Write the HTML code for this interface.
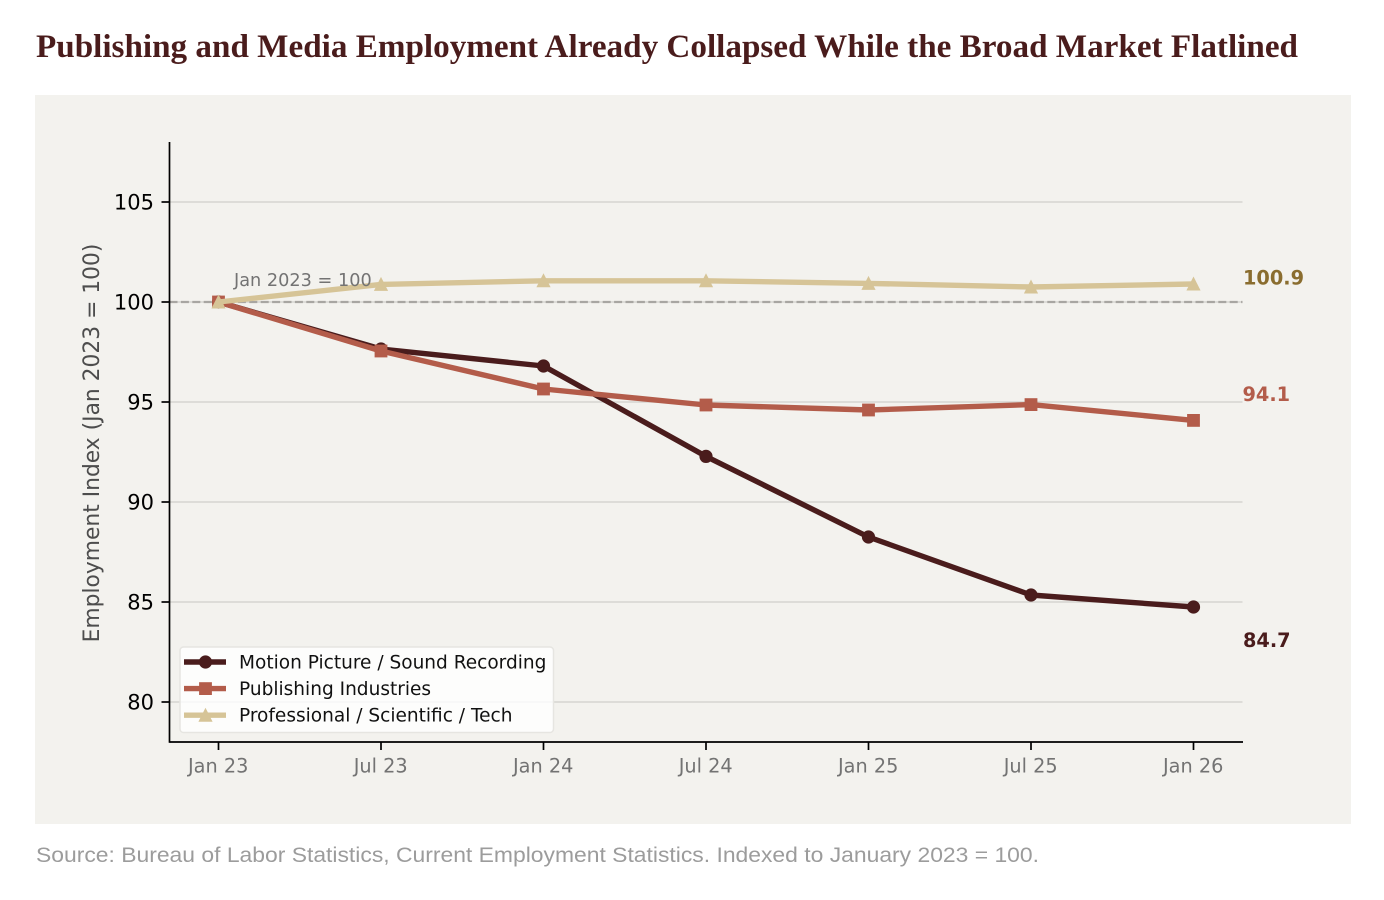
<!DOCTYPE html>
<html lang="en">
<head>
<meta charset="utf-8">
<title>Publishing and Media Employment</title>
<style>
html,body{margin:0;padding:0;background:#fff;width:1384px;height:900px;overflow:hidden}
svg{display:block}
.dj{font-family:"DejaVu Sans",sans-serif}
</style>
</head>
<body>
<svg id="chart" xmlns="http://www.w3.org/2000/svg" width="1384" height="900" viewBox="0 0 1384 900">
<text x="36" y="57" textLength="1262" lengthAdjust="spacingAndGlyphs" font-family="'Liberation Serif',serif" font-weight="700" font-size="33" fill="#4a1c1c">Publishing and Media Employment Already Collapsed While the Broad Market Flatlined</text>
<rect x="35" y="95" width="1316" height="729" fill="#f3f2ee"/>
<g id="grid"></g>
<g id="refline"></g>
<g id="series"></g>
<g id="axes"></g>
<g id="labels"></g>
<g id="legend"></g>
<text x="36" y="862" textLength="1003" lengthAdjust="spacingAndGlyphs" font-family="'Liberation Sans',sans-serif" font-size="21" fill="#9c9c9c">Source: Bureau of Labor Statistics, Current Employment Statistics. Indexed to January 2023 = 100.</text>
</svg>
<script>
const categories = ['Jan 23','Jul 23','Jan 24','Jul 24','Jan 25','Jul 25','Jan 26'];
const motionValues = [100, 97.65, 96.8, 92.28, 88.25, 85.35, 84.75];
const publishingValues = [100, 97.55, 95.65, 94.85, 94.6, 94.87, 94.08];
const professionalValues = [100, 100.88, 101.06, 101.06, 100.93, 100.75, 100.9];
const yTicks = [80, 85, 90, 95, 100, 105];
const referenceValue = 100;
const referenceLabel = 'Jan 2023 = 100';
const yTitle = 'Employment Index (Jan 2023 = 100)';
const seriesNames = ['Motion Picture / Sound Recording','Publishing Industries','Professional / Scientific / Tech'];
const endLabels = ['84.7','94.1','100.9'];

const NS = 'http://www.w3.org/2000/svg';
const X0 = 218.5, XSTEP = 162.5, YBASE = 742, YMIN = 78, YSCALE = 20;
const LEFT = 169.5, RIGHT = 1242.5, TOP = 142;
function xPos(i){ return X0 + i * XSTEP; }
function yPos(v){ return YBASE - (v - YMIN) * YSCALE; }
function make(tag, attrs, parent, text){
  const el = document.createElementNS(NS, tag);
  for (const k in attrs) el.setAttribute(k, attrs[k]);
  if (text !== undefined) el.textContent = text;
  parent.appendChild(el);
  return el;
}
function drawMarker(kind, x, y, color, parent, size){
  let el;
  if (kind === 'circle') {
    el = make('circle', {cx:x, cy:y, r:size, fill:color}, parent);
  } else if (kind === 'square') {
    el = make('rect', {x:x-size, y:y-size, width:size*2, height:size*2, fill:color}, parent);
  } else {
    el = make('polygon', {points:(x-size-0.6)+','+(y+size)+' '+x+','+(y-size-1)+' '+(x+size+0.6)+','+(y+size), fill:color}, parent);
  }
  
  
}

const grid = document.getElementById('grid');
const axes = document.getElementById('axes');
yTicks.forEach(function(t){
  const g = make('line', {x1:LEFT, x2:RIGHT, y1:yPos(t), y2:yPos(t), stroke:'#d6d5d0', 'stroke-width':1.5}, grid);
  
  
  const tk = make('line', {x1:LEFT-8, x2:LEFT, y1:yPos(t), y2:yPos(t), stroke:'#000', 'stroke-width':1.7}, axes);
  
  
  const lb = make('text', {x:LEFT-15.5, y:yPos(t)+7.4, 'text-anchor':'end', 'font-size':21, fill:'#000', class:'dj'}, axes, String(t));
  
  
});

const refline = document.getElementById('refline');
const rl = make('line', {x1:LEFT, x2:RIGHT, y1:yPos(referenceValue), y2:yPos(referenceValue), stroke:'#a8a6a2', 'stroke-width':2.2, 'stroke-dasharray':'8 3.4'}, refline);



const seriesDefs = [
  {values:motionValues, color:'#4a1c1c', marker:'circle', size:6.6, width:5.4},
  {values:publishingValues, color:'#b35c4a', marker:'square', size:6.4, width:5.4},
  {values:professionalValues, color:'#d6c497', marker:'triangle', size:6.5, width:5.4}
];
const seriesLayer = document.getElementById('series');
seriesDefs.forEach(function(s){
  const g = make('g', {}, seriesLayer);
  
  
  const pts = s.values.map(function(v, i){ return xPos(i) + ',' + yPos(v); }).join(' ');
  const pl = make('polyline', {points:pts, fill:'none', stroke:s.color, 'stroke-width':s.width, 'stroke-linejoin':'round', 'stroke-linecap':'round'}, g);
  
  
  s.values.forEach(function(v, i){ drawMarker(s.marker, xPos(i), yPos(v), s.color, g, s.size); });
});
const rt = make('text', {x:234, y:yPos(referenceValue)-15.8, 'font-size':17.7, fill:'#737373', class:'dj'}, seriesLayer, referenceLabel);



const sl = make('line', {x1:LEFT, x2:LEFT, y1:TOP, y2:YBASE+0.8, stroke:'#000', 'stroke-width':1.7}, axes);


const sb = make('line', {x1:LEFT, x2:RIGHT+0.5, y1:YBASE, y2:YBASE, stroke:'#000', 'stroke-width':1.7}, axes);


categories.forEach(function(c, i){
  const tk = make('line', {x1:xPos(i), x2:xPos(i), y1:YBASE, y2:YBASE+8, stroke:'#000', 'stroke-width':1.7}, axes);
  
  
  const lb = make('text', {x:xPos(i)-0.3, y:YBASE+30.5, 'text-anchor':'middle', 'font-size':19.3, fill:'#737373', class:'dj'}, axes, c);
  
  
});
const yt = make('text', {transform:'translate(99,443) rotate(-90)', 'text-anchor':'middle', 'font-size':21.8, fill:'#4d4d4d', class:'dj'}, axes, yTitle);



const labels = document.getElementById('labels');
const endColors = ['#4a1c1c','#b35c4a','#8a6d2f'];
const endX = [1243, 1242.5, 1243];
const endY = [647, 401, 284.5];
endLabels.forEach(function(t, i){
  const el = make('text', {x:endX[i], y:endY[i], 'font-size':19.3, 'font-weight':700, fill:endColors[i], class:'dj'}, labels, t);
  
  
});

const legend = document.getElementById('legend');
const box = make('rect', {x:180, y:647, width:373.5, height:85.5, rx:3.5, fill:'#ffffff', 'fill-opacity':0.8, stroke:'#e6e5e1', 'stroke-width':1.5}, legend);


seriesNames.forEach(function(n, i){
  const y = 662 + i * 26.6;
  const s = seriesDefs[i];
  const l = make('line', {x1:184, x2:226, y1:y, y2:y, stroke:s.color, 'stroke-width':s.width}, legend);
  
  
  drawMarker(s.marker, 205.5, y, s.color, legend, s.size);
  const t = make('text', {x:239, y:y+6.4, 'font-size':18.55, fill:'#111', class:'dj'}, legend, n);
  
  
});
</script>
</body>
</html>
